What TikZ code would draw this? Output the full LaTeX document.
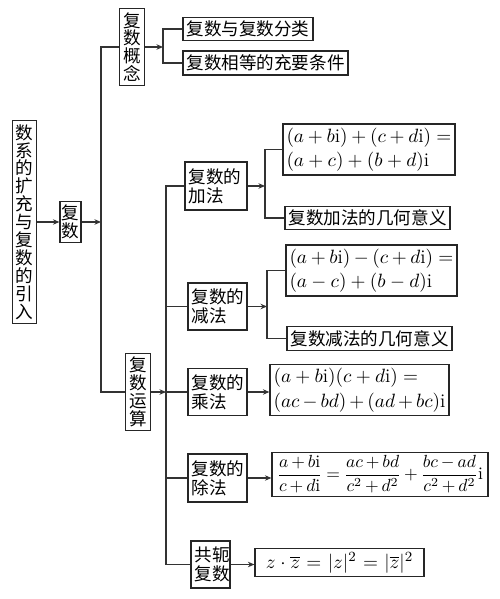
\documentclass[tikz,border=0pt]{standalone}
\usepackage{amsmath}
\usepackage{fontspec}
\newfontfamily\cjk{Noto Sans CJK SC}
\usetikzlibrary{arrows.meta,positioning,calc}

\begin{document}
\begin{tikzpicture}[
  x=0.02cm, y=-0.02cm,
  box/.style={draw=black!85, line width=0.7pt, inner sep=2pt, align=left,
              font=\cjk\fontsize{10}{11}\selectfont},
  vbox/.style={box, align=center, text width=1em, font=\cjk\fontsize{10}{10.2}\selectfont},
  fbox/.style={box, font=\fontsize{11}{14}\selectfont},
  ln/.style={draw=black!80, line width=0.6pt},
  arr/.style={ln, -{Stealth[length=1.3mm, width=1.1mm]}}
]
\useasboundingbox (0,0) rectangle (500,599);
% left part
\node[vbox, minimum height=3.92cm] (root) at (24.5,222) {数\\系\\的\\扩\\充\\与\\复\\数\\的\\引\\入};
\node[vbox, inner xsep=1pt, minimum height=0.82cm, right=0.44cm of root] (fushu) {复\\数};
\node[vbox, minimum height=1.52cm] (gainian) at (132,47) {复\\数\\概\\念};
\node[vbox, minimum height=1.52cm] (yunsuan) at (138,392) {复\\数\\运\\算};
% concept
\node[box, text width=2.46cm, minimum height=0.44cm] (fenlei) at (248,29) {复数与复数分类};
\node[box, text width=3.16cm, minimum height=0.48cm] (xiangdeng) at (265.5,63) {复数相等的充要条件};
% operations
\node[box, text width=1.1cm, minimum height=0.96cm] (jia) at (216,186) {复数的\\加法};
\node[box, text width=1.04cm, minimum height=0.94cm] (jian) at (217.5,306.5) {复数的\\减法};
\node[box, text width=1.04cm, minimum height=0.94cm] (cheng) at (217.5,392) {复数的\\乘法};
\node[box, text width=1.04cm, minimum height=0.96cm] (chu) at (217.5,478) {复数的\\除法};
\node[box, text width=0.64cm, minimum height=0.94cm] (gonge) at (210.5,564.5) {共轭\\复数};
% results
\node[fbox, text width=3.3cm, minimum height=0.94cm] (jiaf) at (369,149.5)
  {$(a+b\mathrm{i})+(c+d\mathrm{i})=$\\$(a+c)+(b+d)\mathrm{i}$};
\node[box, text width=3.16cm, minimum height=0.40cm] (jiaj) at (367.5,218) {复数加法的几何意义};
\node[fbox, text width=3.28cm, minimum height=0.90cm] (jianf) at (371.5,270.5)
  {$(a+b\mathrm{i})-(c+d\mathrm{i})=$\\$(a-c)+(b-d)\mathrm{i}$};
\node[box, text width=3.16cm, minimum height=0.46cm] (jianj) at (369.5,338.5) {复数减法的几何意义};
\node[fbox, text width=3.44cm, minimum height=0.92cm] (chengf) at (359.5,390)
  {$(a+b\mathrm{i})(c+d\mathrm{i})=$\\$(ac-bd)+(ad+bc)\mathrm{i}$};
\node[fbox, font=\fontsize{10}{12}\selectfont, minimum width=4.32cm, minimum height=0.86cm] (chuf) at (380,474.5)
  {\medmuskip=3mu\thickmuskip=4mu
   $\dfrac{a+b\mathrm{i}}{c+d\mathrm{i}}=\dfrac{ac+bd}{c^2+d^2}+\dfrac{bc-ad}{c^2+d^2}\mathrm{i}$};
\node[fbox, align=center, text width=3.24cm, minimum height=0.46cm] (gongef) at (339.5,562.5)
  {$z\cdot\overline{z}=|z|^2=|\overline{z}|^2$};
% trunk lines
\coordinate (t1) at (101,222);
\coordinate (t2) at (163,47);
\coordinate (t3) at (166,392);
\coordinate (t4) at (265,186);
\coordinate (t5) at (267,306.5);
\draw[arr] (root) -- (fushu);
\draw[arr] (fushu) -- (t1);
\draw[ln] (gainian.west) -| (t1) |- (yunsuan.west);
\draw[arr] (gainian) -- (t2);
\draw[ln] (fenlei.west) -| (t2) |- (xiangdeng.west);
\draw[arr] (yunsuan) -- (t3);
\draw[ln] (jia.west) -| (t3) |- (gonge.west);
\draw[ln] (t3) -- (cheng.west);
\draw[ln] (jian.west) -- (jian.west -| t3);
\draw[ln] (chu.west) -- (chu.west -| t3);
\draw[arr] (jia) -- (t4);
\draw[ln] (jiaf.west) -| (t4) |- (jiaj.west);
\draw[arr] (jian) -- (t5);
\draw[ln] (jianf.west) -| (t5) |- (jianj.west);
\draw[arr] (cheng.east) -- (cheng.east -| chengf.west);
\draw[arr] (chu.east) -- (chu.east -| chuf.west);
\draw[arr] (gonge.east) -- (gonge.east -| gongef.west);
\end{tikzpicture}
\end{document}
